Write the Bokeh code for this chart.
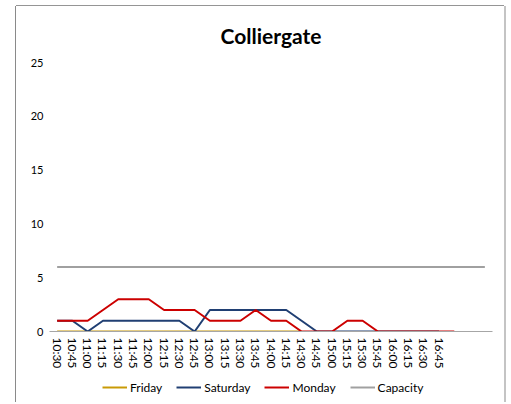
from bokeh.plotting import figure
from bokeh.layouts import column
from bokeh.models import FactorRange, Range1d, FixedTicker, Legend, LegendItem, Title
from bokeh.embed import file_html
from bokeh.resources import INLINE

# ---- data ----
times = ["10:30", "10:45", "11:00", "11:15", "11:30", "11:45", "12:00", "12:15",
         "12:30", "12:45", "13:00", "13:15", "13:30", "13:45", "14:00", "14:15",
         "14:30", "14:45", "15:00", "15:15", "15:30", "15:45", "16:00", "16:15",
         "16:30", "16:45"]
extra_slots = [" ", "  ", "   "]          # empty trailing categories
friday = [0, 0, 0, 0, 0, 0, 0, 0, 0, 0, 0, 0, 0, 0, 0, 0, 0]
saturday = [1, 1, 0, 1, 1, 1, 1, 1, 1, 0, 2, 2, 2, 2, 2, 2, 1, 0, 0, 0, 0, 0,
            0, 0, 0, 0]
monday = [1, 1, 1, 2, 3, 3, 3, 2, 2, 2, 1, 1, 1, 2, 1, 1, 0, 0, 0, 1, 1, 0,
          0, 0, 0, 0, 0]
capacity = [6] * 29
y_ticks = [0, 5, 10, 15, 20, 25]

series_names = ["Friday", "Saturday", "Monday", "Capacity"]
series_values = [friday, saturday, monday, capacity]
series_colors = ["#c99a06", "#203f73", "#cc0000", "#a0a0a0"]

FONT = "Lato"
slots = times + extra_slots

# ---- main chart ----
p = figure(width=488, height=372, x_range=FactorRange(factors=slots, range_padding=0),
           y_range=Range1d(0, 25), output_backend="svg", toolbar_location=None,
           min_border_left=33, min_border_right=12, min_border_top=54,
           min_border_bottom=47)
p.outline_line_color = None
p.grid.visible = False
p.background_fill_color = "white"
p.border_fill_color = "white"

title = Title(text="Colliergate", align="center", text_font=FONT,
              text_font_size="21px", text_font_style="bold", text_color="#000000",
              standoff=29, offset=-10)
p.add_layout(title, "above")

for name, vals, col in zip(series_names, series_values, series_colors):
    p.line(x=slots[:len(vals)], y=vals, line_color=col, line_width=2)

p.yaxis.ticker = FixedTicker(ticks=y_ticks)
p.yaxis.axis_line_color = None
p.yaxis.major_tick_line_color = None
p.yaxis.minor_tick_line_color = None
p.yaxis.major_tick_out = 0
p.yaxis.major_tick_in = 0
p.yaxis.major_label_text_font = FONT
p.yaxis.major_label_text_font_size = "11px"
p.yaxis.major_label_text_color = "#000000"
p.yaxis.major_label_standoff = 6

p.xaxis.axis_line_color = "#a6a6a6"
p.xaxis.axis_line_width = 1
p.xaxis.major_tick_line_color = None
p.xaxis.minor_tick_line_color = None
p.xaxis.major_tick_out = 0
p.xaxis.major_tick_in = 0
p.xaxis.major_label_orientation = "vertical"
p.xaxis.major_label_text_font = FONT
p.xaxis.major_label_text_font_size = "12px"
p.xaxis.major_label_text_color = "#000000"
p.xaxis.major_label_standoff = 6

# ---- legend strip ----
lg = figure(width=488, height=24, x_range=Range1d(0, 1), y_range=Range1d(0, 1),
            output_backend="svg", toolbar_location=None,
            x_axis_location=None, y_axis_location=None,
            min_border_left=0, min_border_right=0, min_border_top=0,
            min_border_bottom=0)
lg.outline_line_color = None
lg.grid.visible = False
lg.background_fill_color = "white"
lg.border_fill_color = "white"
items = []
for name, col in zip(series_names, series_colors):
    # single-point line: draws nothing itself, only provides the legend swatch
    r = lg.line(x=[0.5], y=[0.5], line_color=col, line_width=2)
    items.append(LegendItem(label=name, renderers=[r]))
legend = Legend(items=items, orientation="horizontal", location=(53, 5),
                label_text_font=FONT, label_text_font_size="12px",
                label_text_color="#000000", border_line_color=None,
                background_fill_alpha=0, glyph_width=25, label_standoff=3,
                spacing=14, padding=0, margin=0)
lg.add_layout(legend, "center")

layout = column(p, lg, spacing=0, margin=(6, 0, 0, 16))
layout.styles = {"box-shadow": "-1px 0 0 #8a8a8a, 0 -1px 0 #959595, 2px 0 0 #c4c4c4"}

open("out.html", "w").write(file_html(layout, INLINE))
